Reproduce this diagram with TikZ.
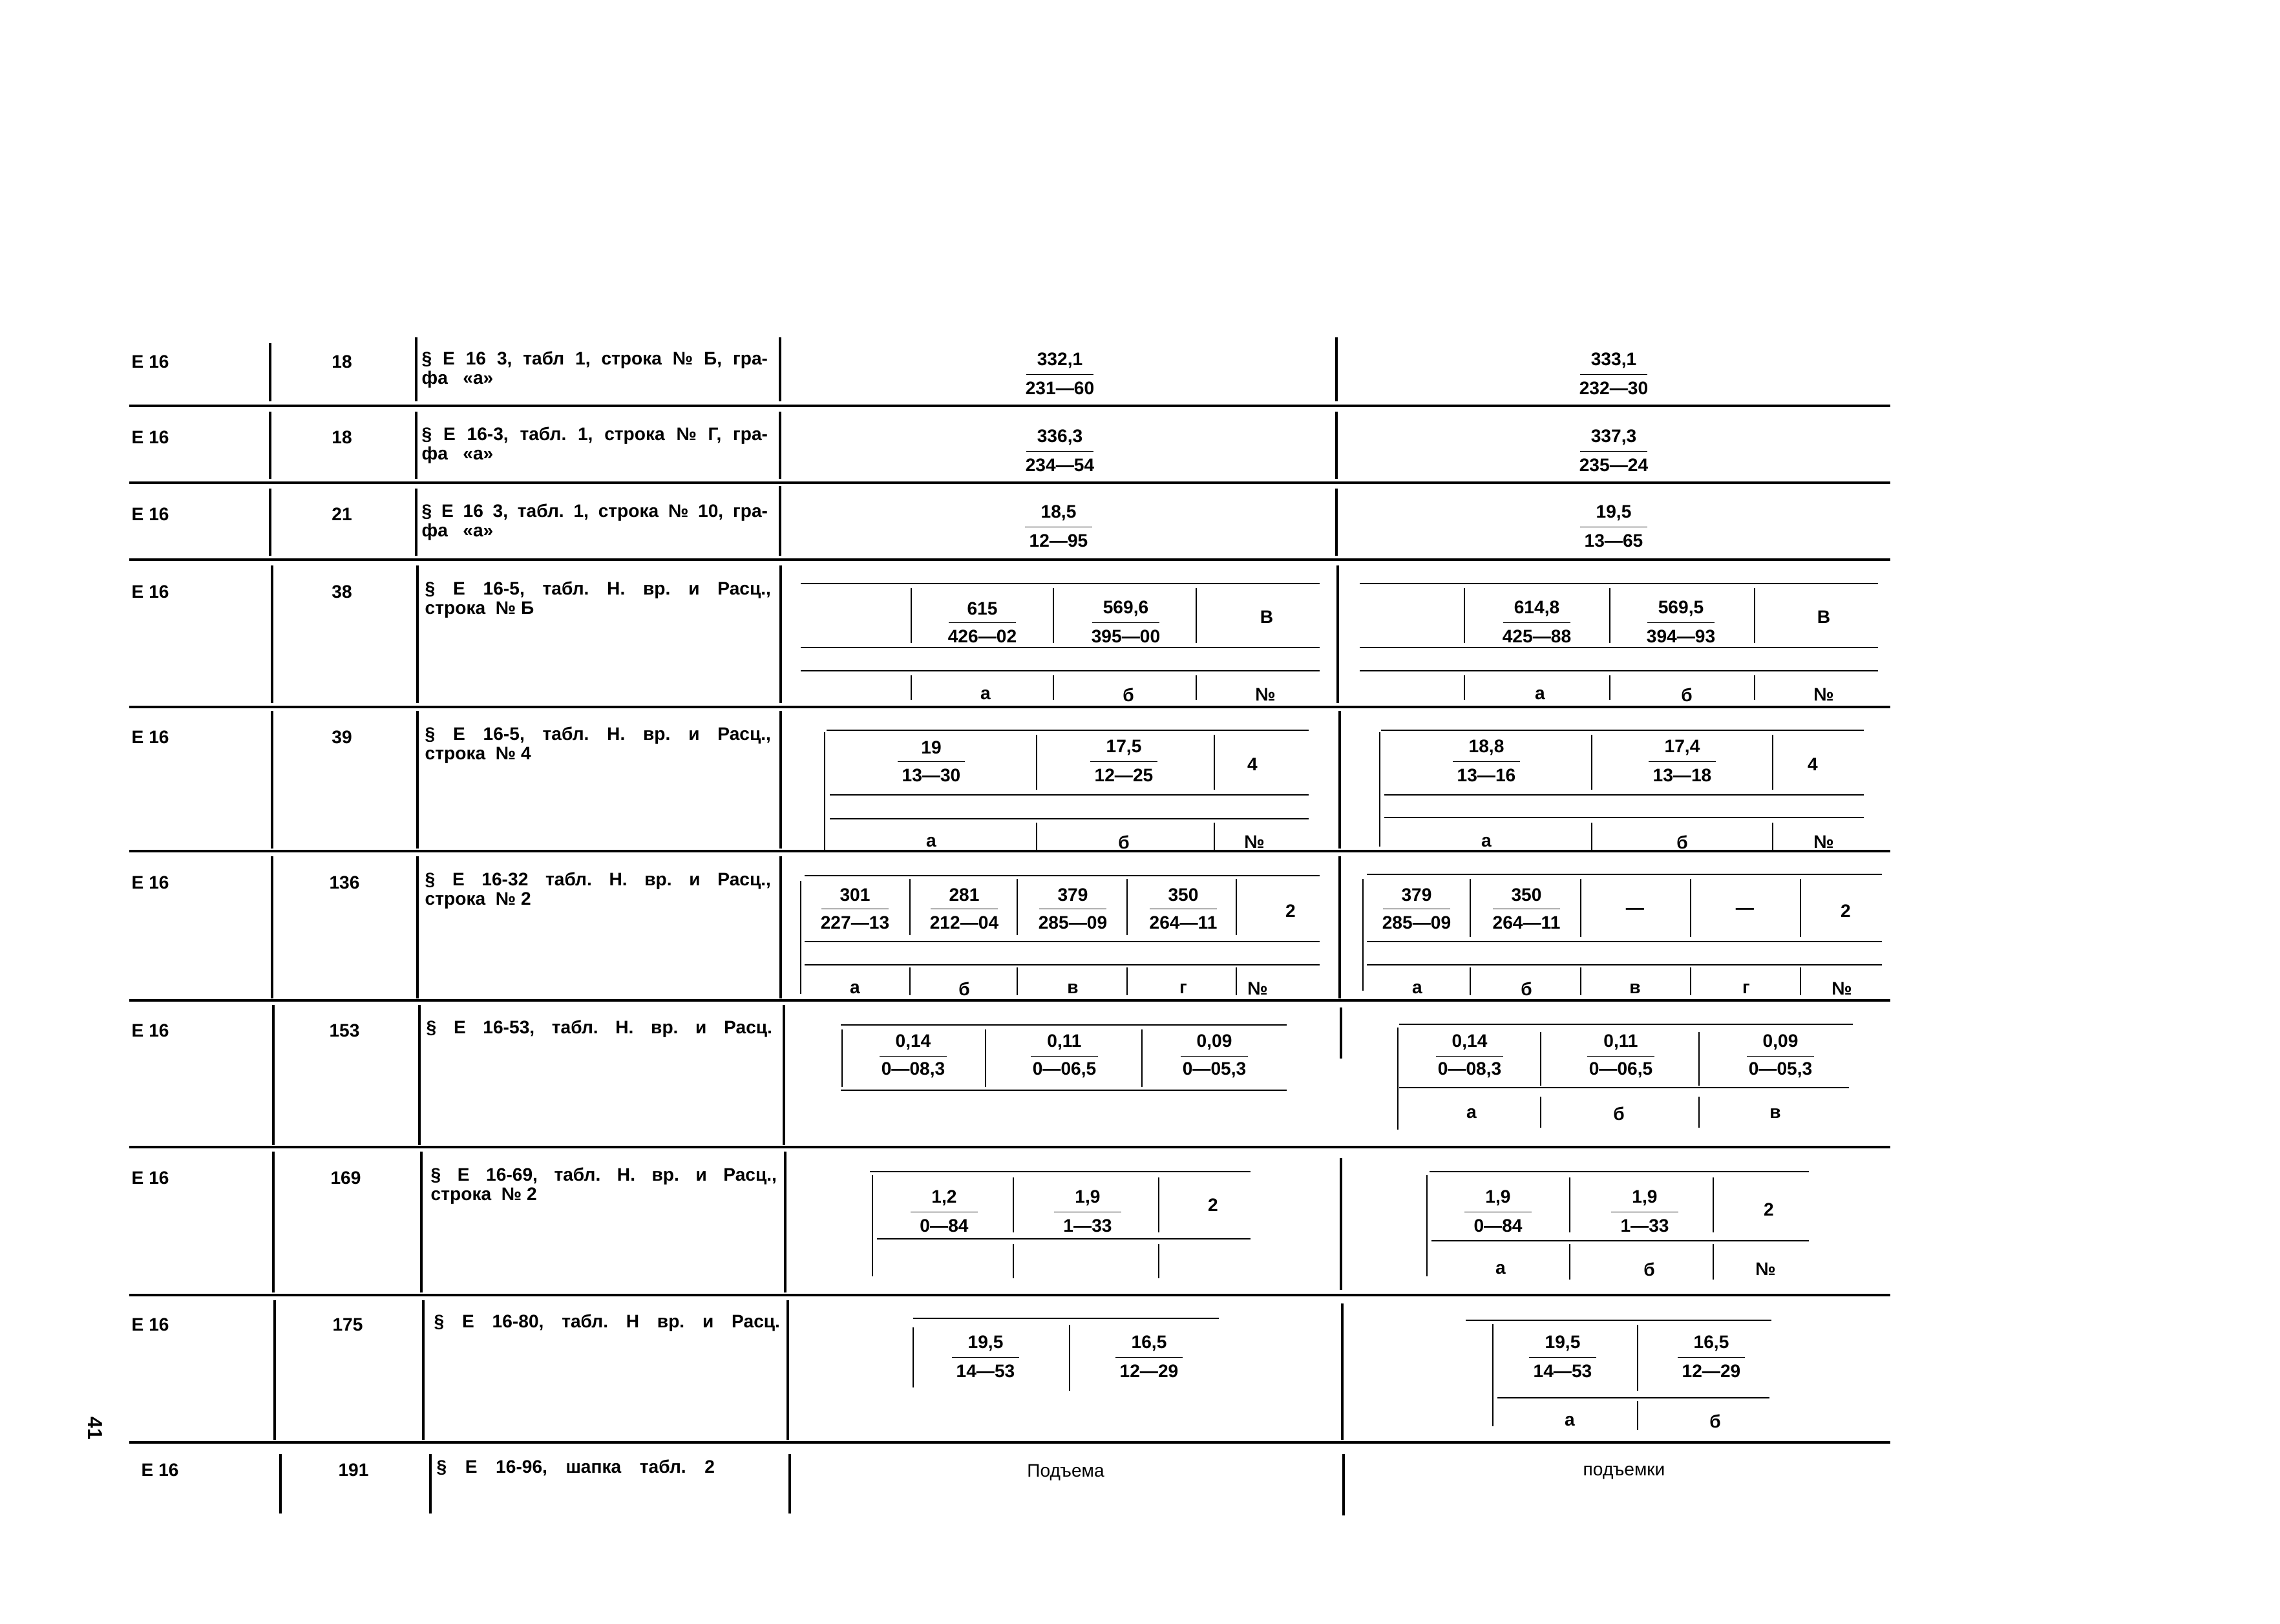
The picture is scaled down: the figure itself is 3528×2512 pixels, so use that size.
\documentclass[tikz,border=0pt]{standalone}
\usepackage{fontspec}
\setmainfont{Liberation Sans}
\usetikzlibrary{calc}
\frenchspacing

% fraction: name, x, y of numerator, numerator, denominator
\newcommand{\frc}[5]{%
  \node[num] (#1n) at (#2,#3) {#4};
  \node[num] (#1d) at (#2,#3+43) {#5};
  \draw[bar] ($(#1n)!.5!(#1d)$) ++(-52,0) -- ++(104,0);}
% spread line of the reference column
\newcommand{\fl}[1]{\makebox[5.35cm][s]{#1}}

\begin{document}
\begin{tikzpicture}[x=0.01cm,y=-0.01cm,
    txt/.style={font=\bfseries\fontsize{8}{8.6}\selectfont, inner sep=0pt},
    num/.style={txt},
    lab/.style={txt},
    ref/.style={txt, anchor=north west, align=left},
    rule/.style={line width=1pt},
    cell/.style={line width=0.8pt},
    bar/.style={line width=0.5pt}]
    \fill[white] (0,0) rectangle (3528,2512);
    \useasboundingbox (0,0) rectangle (3528,2512);

    % row 1
    \node[txt,anchor=west] (e1) at (203,560) {Е 16};
    \node[txt] (n1) at (529,560) {18};
    \node[ref] (s1) at (652,543) {\fl{§ Е 16 3, табл 1, строка № Б, гра-}\\фа~~~«а»};
    \frc{a1}{1640}{558}{332,1}{231—60}
    \frc{b1}{2497}{558}{333,1}{232—30}
    \draw[rule] (418,531) -- (418,621) (644,522) -- (644,621) (1207,522) -- (1207,621) (2068,522) -- (2068,621);
    \draw[rule] (200,628) -- (2925,628);

    % row 2
    \node[txt,anchor=west] (e2) at (203,677) {Е 16};
    \node[txt] (n2) at (529,677) {18};
    \node[ref] (s2) at (652,660) {\fl{§ Е 16-3, табл. 1, строка № Г, гра-}\\фа~~~«а»};
    \frc{a2}{1640}{677}{336,3}{234—54}
    \frc{b2}{2497}{677}{337,3}{235—24}
    \draw[rule] (418,637) -- (418,741) (644,637) -- (644,741) (1207,637) -- (1207,741) (2068,637) -- (2068,741);
    \draw[rule] (200,747) -- (2925,747);

    % row 3
    \node[txt,anchor=west] (e3) at (203,796) {Е 16};
    \node[txt] (n3) at (529,796) {21};
    \node[ref] (s3) at (652,779) {\fl{§ Е 16 3, табл. 1, строка № 10, гра-}\\фа~~~«а»};
    \frc{a3}{1638}{794}{18,5}{12—95}
    \frc{b3}{2497}{794}{19,5}{13—65}
    \draw[rule] (418,756) -- (418,860) (644,756) -- (644,860) (1207,752) -- (1207,860) (2068,756) -- (2068,860);
    \draw[rule] (200,866) -- (2925,866);

    % row 4
    \node[txt,anchor=west] (e4) at (203,916) {Е 16};
    \node[txt] (n4) at (529,916) {38};
    \node[ref] (s4) at (657,899) {\fl{§ Е 16-5, табл. Н. вр. и Расц.,}\\строка~~№ Б};
    \draw[rule] (421,875) -- (421,1088) (646,875) -- (646,1088) (1208,875) -- (1208,1088) (2070,875) -- (2070,1088);
    \draw[cell] (1239,903) -- (2042,903) (1239,1002) -- (2042,1002) (1239,1038) -- (2042,1038);
    \draw[cell] (1410,910) -- (1410,995) (1630,910) -- (1630,995) (1851,910) -- (1851,995);
    \draw[cell] (1410,1045) -- (1410,1083) (1630,1045) -- (1630,1083) (1851,1045) -- (1851,1083);
    \frc{a4a}{1520}{942}{615}{426—02}
    \frc{a4b}{1742}{942}{569,6}{395—00}
    \node[txt] (a4c) at (1960,955) {В};
    \node[lab] (a4x) at (1525,1075) {а};
    \node[lab] (a4y) at (1746,1075) {б};
    \node[lab] (a4z) at (1958,1075) {№};
    \draw[cell] (2104,903) -- (2906,903) (2104,1002) -- (2906,1002) (2104,1038) -- (2906,1038);
    \draw[cell] (2266,910) -- (2266,995) (2491,910) -- (2491,995) (2715,910) -- (2715,995);
    \draw[cell] (2266,1045) -- (2266,1083) (2491,1045) -- (2491,1083) (2715,1045) -- (2715,1083);
    \frc{b4a}{2378}{942}{614,8}{425—88}
    \frc{b4b}{2601}{942}{569,5}{394—93}
    \node[txt] (b4c) at (2822,955) {В};
    \node[lab] (b4x) at (2383,1075) {а};
    \node[lab] (b4y) at (2610,1075) {б};
    \node[lab] (b4z) at (2822,1075) {№};
    \draw[rule] (200,1094) -- (2925,1094);

    % row 5
    \node[txt,anchor=west] (e5) at (203,1141) {Е 16};
    \node[txt] (n5) at (529,1141) {39};
    \node[ref] (s5) at (657,1124) {\fl{§ Е 16-5, табл. Н. вр. и Расц.,}\\строка~~№ 4};
    \draw[rule] (421,1100) -- (421,1313) (646,1100) -- (646,1313) (1208,1100) -- (1208,1313) (2073,1100) -- (2073,1313);
    \draw[cell] (1279,1130) -- (2025,1130) (1284,1230) -- (2025,1230) (1284,1267) -- (2025,1267);
    \draw[cell] (1276,1133) -- (1276,1315);
    \draw[cell] (1604,1137) -- (1604,1222) (1879,1137) -- (1879,1222) (1604,1273) -- (1604,1315) (1879,1273) -- (1879,1315);
    \frc{a5a}{1441}{1157}{19}{13—30}
    \frc{a5b}{1739}{1157}{17,5}{12—25}
    \node[txt] (a5c) at (1938,1183) {4};
    \node[lab] (a5x) at (1441,1303) {а};
    \node[lab] (a5y) at (1739,1303) {б};
    \node[lab] (a5z) at (1941,1303) {№};
    \draw[cell] (2137,1130) -- (2884,1130) (2142,1230) -- (2884,1230) (2142,1265) -- (2884,1265);
    \draw[cell] (2135,1133) -- (2135,1310);
    \draw[cell] (2463,1137) -- (2463,1222) (2743,1137) -- (2743,1222) (2463,1273) -- (2463,1315) (2743,1273) -- (2743,1315);
    \frc{b5a}{2300}{1157}{18,8}{13—16}
    \frc{b5b}{2603}{1157}{17,4}{13—18}
    \node[txt] (b5c) at (2805,1183) {4};
    \node[lab] (b5x) at (2300,1303) {а};
    \node[lab] (b5y) at (2603,1303) {б};
    \node[lab] (b5z) at (2822,1303) {№};
    \draw[rule] (200,1317) -- (2925,1317);

    % row 6
    \node[txt,anchor=west] (e6) at (203,1366) {Е 16};
    \node[txt] (n6) at (533,1366) {136};
    \node[ref] (s6) at (657,1349) {\fl{§ Е 16-32 табл. Н. вр. и Расц.,}\\строка~~№ 2};
    \draw[rule] (421,1325) -- (421,1545) (646,1325) -- (646,1545) (1208,1325) -- (1208,1545) (2073,1325) -- (2073,1545);
    \draw[cell] (1245,1355) -- (2042,1355) (1245,1457) -- (2042,1457) (1245,1493) -- (2042,1493);
    \draw[cell] (1239,1363) -- (1239,1538);
    \draw[cell] (1408,1360) -- (1408,1447) (1574,1360) -- (1574,1447) (1744,1360) -- (1744,1447) (1913,1360) -- (1913,1447);
    \draw[cell] (1408,1497) -- (1408,1540) (1574,1497) -- (1574,1540) (1744,1497) -- (1744,1540) (1913,1497) -- (1913,1540);
    \frc{a6a}{1323}{1385}{301}{227—13}
    \frc{a6b}{1492}{1385}{281}{212—04}
    \frc{a6c}{1660}{1385}{379}{285—09}
    \frc{a6d}{1831}{1385}{350}{264—11}
    \node[txt] (a6e) at (1997,1410) {2};
    \node[lab] (a6v) at (1323,1530) {а};
    \node[lab] (a6w) at (1492,1530) {б};
    \node[lab] (a6x) at (1660,1530) {в};
    \node[lab] (a6y) at (1831,1530) {г};
    \node[lab] (a6z) at (1946,1530) {№};
    \draw[cell] (2115,1353) -- (2912,1353) (2115,1457) -- (2912,1457) (2115,1493) -- (2912,1493);
    \draw[cell] (2109,1360) -- (2109,1533);
    \draw[cell] (2275,1360) -- (2275,1450) (2446,1360) -- (2446,1450) (2616,1360) -- (2616,1450) (2786,1360) -- (2786,1450);
    \draw[cell] (2275,1497) -- (2275,1540) (2446,1497) -- (2446,1540) (2616,1497) -- (2616,1540) (2786,1497) -- (2786,1540);
    \frc{b6a}{2192}{1385}{379}{285—09}
    \frc{b6b}{2362}{1385}{350}{264—11}
    \node[txt] (b6c) at (2530,1410) {—};
    \node[txt] (b6d) at (2700,1410) {—};
    \node[txt] (b6e) at (2856,1410) {2};
    \node[lab] (b6v) at (2193,1530) {а};
    \node[lab] (b6w) at (2362,1530) {б};
    \node[lab] (b6x) at (2530,1530) {в};
    \node[lab] (b6y) at (2702,1530) {г};
    \node[lab] (b6z) at (2850,1530) {№};
    \draw[rule] (200,1548) -- (2925,1548);

    % row 7
    \node[txt,anchor=west] (e7) at (203,1595) {Е 16};
    \node[txt] (n7) at (533,1595) {153};
    \node[ref] (s7) at (659,1578) {\fl{§ Е 16-53, табл. Н. вр. и Расц.}};
    \draw[rule] (423,1555) -- (423,1772) (649,1555) -- (649,1772) (1213,1555) -- (1213,1772) (2075,1559) -- (2075,1638);
    \draw[cell] (1301,1586) -- (1991,1586) (1301,1687) -- (1991,1687);
    \draw[cell] (1303,1593) -- (1303,1682) (1525,1593) -- (1525,1682) (1767,1593) -- (1767,1682);
    \frc{a7a}{1413}{1613}{0,14}{0—08,3}
    \frc{a7b}{1647}{1613}{0,11}{0—06,5}
    \frc{a7c}{1879}{1613}{0,09}{0—05,3}
    \draw[cell] (2165,1585) -- (2867,1585) (2165,1683) -- (2861,1683);
    \draw[cell] (2163,1590) -- (2163,1748);
    \draw[cell] (2384,1597) -- (2384,1680) (2629,1597) -- (2629,1680) (2384,1697) -- (2384,1745) (2629,1697) -- (2629,1745);
    \frc{b7a}{2274}{1613}{0,14}{0—08,3}
    \frc{b7b}{2508}{1613}{0,11}{0—06,5}
    \frc{b7c}{2755}{1613}{0,09}{0—05,3}
    \node[lab] (b7x) at (2277,1723) {а};
    \node[lab] (b7y) at (2505,1723) {б};
    \node[lab] (b7z) at (2747,1723) {в};
    \draw[rule] (200,1775) -- (2925,1775);

    % row 8
    \node[txt,anchor=west] (e8) at (203,1823) {Е 16};
    \node[txt] (n8) at (535,1823) {169};
    \node[ref] (s8) at (666,1806) {\fl{§ Е 16-69, табл. Н. вр. и Расц.,}\\строка~~№ 2};
    \draw[rule] (423,1782) -- (423,2000) (652,1782) -- (652,2000) (1215,1782) -- (1215,2000) (2075,1792) -- (2075,1996);
    \draw[cell] (1346,1813) -- (1935,1813) (1357,1917) -- (1935,1917);
    \draw[cell] (1350,1818) -- (1350,1975);
    \draw[cell] (1568,1822) -- (1568,1907) (1793,1822) -- (1793,1907) (1568,1925) -- (1568,1978) (1793,1925) -- (1793,1978);
    \frc{a8a}{1461}{1854}{1,2}{0—84}
    \frc{a8b}{1683}{1854}{1,9}{1—33}
    \node[txt] (a8c) at (1877,1865) {2};
    \draw[cell] (2212,1813) -- (2799,1813) (2215,1920) -- (2799,1920);
    \draw[cell] (2208,1818) -- (2208,1975);
    \draw[cell] (2429,1822) -- (2429,1907) (2651,1822) -- (2651,1907) (2429,1925) -- (2429,1980) (2651,1925) -- (2651,1980);
    \frc{b8a}{2318}{1854}{1,9}{0—84}
    \frc{b8b}{2545}{1854}{1,9}{1—33}
    \node[txt] (b8c) at (2737,1872) {2};
    \node[lab] (b8x) at (2322,1964) {а};
    \node[lab] (b8y) at (2552,1964) {б};
    \node[lab] (b8z) at (2732,1964) {№};
    \draw[rule] (200,2004) -- (2925,2004);

    % row 9
    \node[txt,anchor=west] (e9) at (203,2050) {Е 16};
    \node[txt] (n9) at (538,2050) {175};
    \node[ref] (s9) at (671,2033) {\fl{§ Е 16-80, табл. Н вр. и Расц.}};
    \draw[rule] (425,2012) -- (425,2228) (655,2012) -- (655,2228) (1219,2012) -- (1219,2228) (2077,2017) -- (2077,2228);
    \draw[cell] (1413,2040) -- (1886,2040);
    \draw[cell] (1413,2054) -- (1413,2147) (1655,2050) -- (1655,2152);
    \frc{a9a}{1525}{2079}{19,5}{14—53}
    \frc{a9b}{1778}{2079}{16,5}{12—29}
    \draw[cell] (2268,2043) -- (2741,2043) (2317,2163) -- (2738,2163);
    \draw[cell] (2310,2049) -- (2310,2207);
    \draw[cell] (2534,2050) -- (2534,2152) (2534,2168) -- (2534,2213);
    \frc{b9a}{2418}{2079}{19,5}{14—53}
    \frc{b9b}{2648}{2079}{16,5}{12—29}
    \node[lab] (b9x) at (2429,2199) {а};
    \node[lab] (b9y) at (2654,2199) {б};
    \draw[rule] (200,2232) -- (2925,2232);

    % row 10
    \node[txt,anchor=west] (e10) at (218,2275) {Е 16};
    \node[txt] (n10) at (547,2275) {191};
    \node[ref] (s10) at (675,2258) {\makebox[4.3cm][s]{§ Е 16-96, шапка табл. 2}};
    \node[txt,font=\mdseries\fontsize{8}{8.6}\selectfont] (a10) at (1649,2279) {Подъема};
    \node[txt,font=\mdseries\fontsize{8}{8.6}\selectfont] (b10) at (2513,2279) {подъемки};
    \draw[rule] (434,2250) -- (434,2342) (666,2250) -- (666,2342) (1222,2250) -- (1222,2342) (2079,2250) -- (2079,2345);

    % page number
    \node[txt,font=\bfseries\fontsize{9}{9}\selectfont,rotate=-90] (pg) at (147,2210) {41};
\end{tikzpicture}
\end{document}
